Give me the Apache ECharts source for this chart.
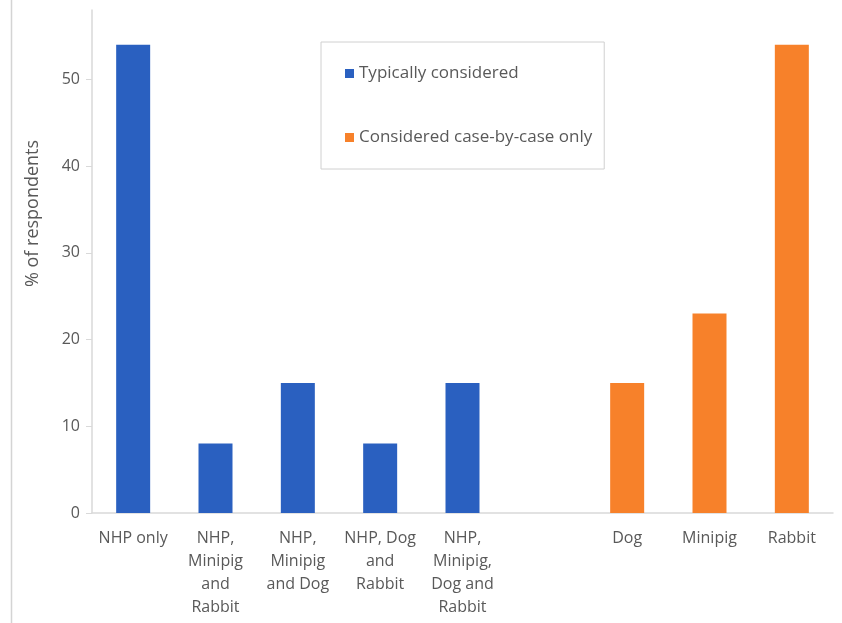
<!DOCTYPE html>
<html lang="en">
<head>
    <meta charset="UTF-8">
    <script src="https://cdn.jsdelivr.net/npm/echarts@6/dist/echarts.min.js"></script>
    <title>Species considered</title>
</head>
<body style="margin: 0; background: #fff">
    <div id="barChart_main" style="width: 842px; height: 623px"></div>
<script>

    var BarChart_Main = echarts.init(document.getElementById('barChart_main'));

    // x categories, the empty one is the gap between the two groups
    var categories = ['NHP only', 'NHP,\nMinipig\nand\nRabbit', 'NHP,\nMinipig\nand Dog', 'NHP, Dog\nand\nRabbit',
        'NHP,\nMinipig,\nDog and\nRabbit', '', 'Dog', 'Minipig', 'Rabbit'];
    var typicallyConsidered = [54, 8, 15, 8, 15, '-', '-', '-', '-'];
    var caseByCase = ['-', '-', '-', '-', '-', '-', 15, 23, 54];
    var seriesNames = ['Typically considered', 'Considered case-by-case only'];
    var yTicks = [0, 10, 20, 30, 40, 50];

    var textColor = '#595959';
    var font = "'Open Sans', sans-serif";

    option = {
        backgroundColor: '#fff',
        animation: false,
        grid: {
            left: 92,
            right: 9,
            top: 10,
            bottom: 110,
        },
        legend: {
            orient: 'vertical',
            left: 321,
            top: 42,
            padding: [23, 12, 23, 24],
            itemGap: 47,
            itemWidth: 9,
            itemHeight: 9,
            icon: 'rect',
            borderColor: '#d0d0d0',
            borderWidth: 1,
            textStyle: {
                color: textColor,
                fontSize: 17,
                fontFamily: font,
            },
            data: seriesNames,
        },
        xAxis: {
            type: 'category',
            data: categories,
            axisLine: {
                lineStyle: {color: '#d9d9d9', width: 1.5},
            },
            axisTick: {show: false},
            axisLabel: {
                interval: 0,
                margin: 14,
                color: textColor,
                fontSize: 16,
                lineHeight: 23,
                fontFamily: font,
            },
        },
        yAxis: {
            type: 'value',
            min: 0,
            max: 58,
            interval: 10,
            name: '% of respondents',
            nameLocation: 'middle',
            nameGap: 50,
            nameTextStyle: {
                color: textColor,
                fontSize: 18,
                fontFamily: font,
                padding: [0, 0, 0, 96],
            },
            splitLine: {show: false},
            axisLine: {
                show: true,
                lineStyle: {color: '#d9d9d9', width: 1.5},
            },
            axisTick: {
                show: true,
                length: 6,
                lineStyle: {color: '#d9d9d9'},
            },
            axisLabel: {
                margin: 12,
                color: textColor,
                fontSize: 16,
                fontFamily: font,
                showMaxLabel: false,
                formatter: function (v) {
                    return yTicks.indexOf(v) >= 0 ? v : '';
                },
            },
        },
        series: [{
            name: seriesNames[0],
            type: 'bar',
            data: typicallyConsidered,
            barWidth: 34,
            barGap: '-100%',
            itemStyle: {color: '#2a60c0'},
        }, {
            name: seriesNames[1],
            type: 'bar',
            data: caseByCase,
            barWidth: 34,
            itemStyle: {color: '#f7812a'},
        }],
        graphic: [{
            type: 'line',
            shape: {x1: 11.5, y1: 0, x2: 11.5, y2: 623},
            style: {stroke: '#d4d4d4', lineWidth: 1.5},
        }],
    };

    BarChart_Main.setOption(option);

</script>
</body>
</html>
